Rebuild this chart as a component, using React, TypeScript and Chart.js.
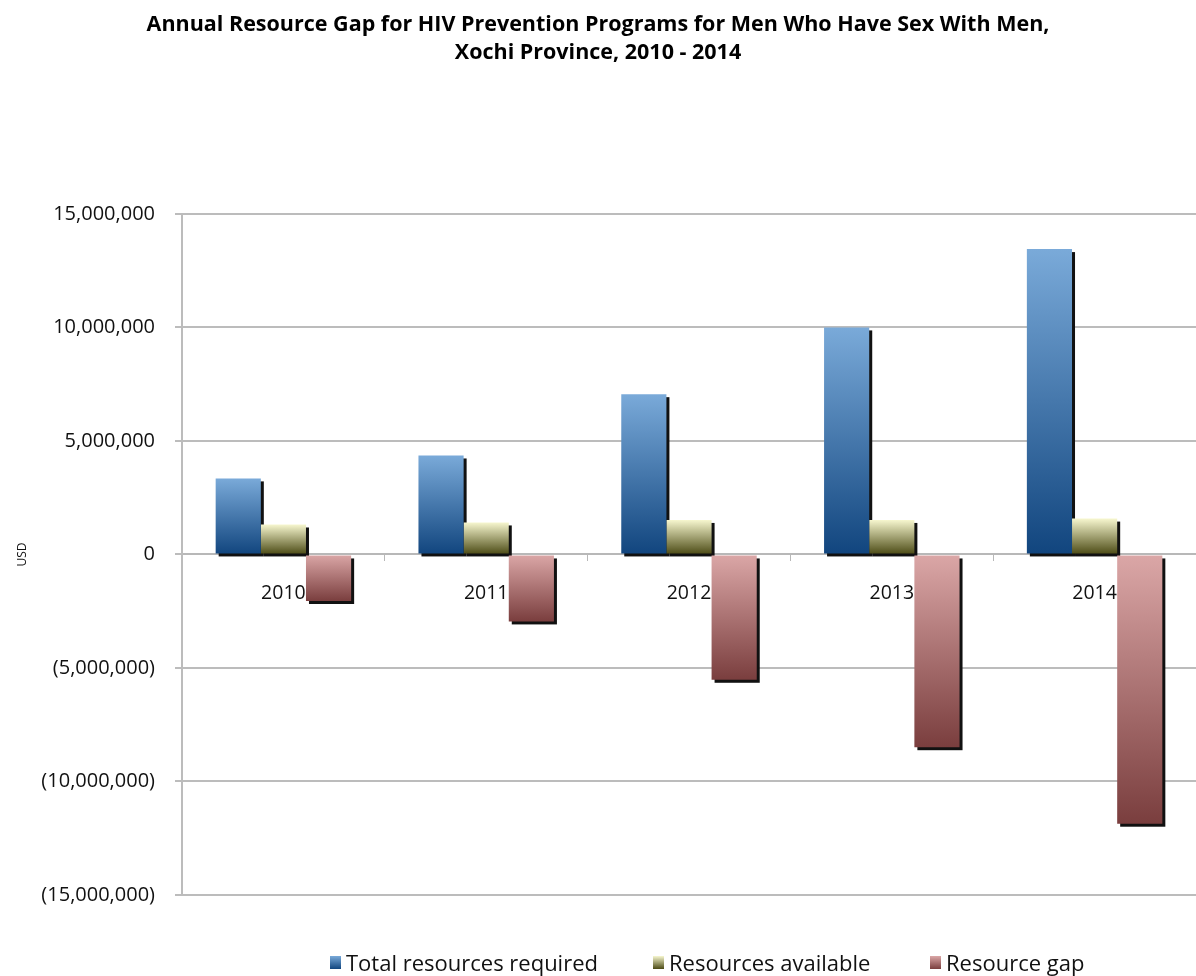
import React, { useEffect, useRef } from "react";
import { Chart, registerables } from "chart.js";

Chart.register(...registerables);

const titleLines = [
  "Annual Resource Gap for HIV Prevention Programs for Men Who Have Sex With Men,",
  "Xochi Province, 2010 - 2014",
];
const categories = ["2010", "2011", "2012", "2013", "2014"];
const seriesNames = ["Total resources required", "Resources available", "Resource gap"];
const totalRequired = [3350000, 4360000, 7060000, 10000000, 13450000];
const resourcesAvailable = [1320000, 1410000, 1520000, 1520000, 1580000];
const resourceGap = [-2050000, -2950000, -5520000, -8490000, -11860000];
const yMin = -15000000;
const yMax = 15000000;
const yStep = 5000000;
const yAxisTitle = "USD";

const gradients = [
  ["#7aaad9", "#11457e"],
  ["#f7f7cf", "#4b4a14"],
  ["#dba7a7", "#7a3e3e"],
];
const solids = ["#3f77b2", "#9c9c5c", "#b07878"];

const fontBody = "'Open Sans', 'DejaVu Sans', sans-serif";

function fmt(v: number) {
  const s = Math.abs(v).toLocaleString("en-US");
  return v < 0 ? "(" + s + ")" : s;
}

function makeBg(idx: number) {
  return (ctx: any) => {
    const chart = ctx.chart;
    const ys = chart.scales && chart.scales.y;
    if (!chart.chartArea || !ys || ctx.type !== "data") return solids[idx];
    const v = ctx.raw as number;
    const p0 = ys.getPixelForValue(0);
    const p1 = ys.getPixelForValue(v);
    const top = Math.min(p0, p1);
    const bot = Math.max(p0, p1);
    if (!isFinite(top) || !isFinite(bot) || bot - top < 1) return solids[idx];
    const g = chart.ctx.createLinearGradient(0, top, 0, bot);
    g.addColorStop(0, gradients[idx][0]);
    g.addColorStop(1, gradients[idx][1]);
    return g;
  };
}

const shadowPlugin = {
  id: "barShadow",
  beforeDatasetsDraw(chart: any) {
    const c = chart.ctx;
    c.save();
    c.fillStyle = "#111";
    chart.data.datasets.forEach((_: any, i: number) => {
      const meta = chart.getDatasetMeta(i);
      meta.data.forEach((el: any) => {
        const left = el.x - el.width / 2;
        const top = Math.min(el.y, el.base);
        const h = Math.abs(el.base - el.y);
        c.fillRect(left + 3, top + 3, el.width, h);
      });
    });
    c.restore();
  },
};

export default function App() {
  const ref = useRef<HTMLCanvasElement | null>(null);

  useEffect(() => {
    document.body.style.margin = "0";
    const canvas = ref.current;
    if (!canvas) return;
    const datasets = [totalRequired, resourcesAvailable, resourceGap].map((d, i) => ({
      label: seriesNames[i],
      data: d,
      backgroundColor: makeBg(i),
      borderWidth: 0,
      categoryPercentage: 0.668,
      barPercentage: 1.0,
    }));
    const chart = new Chart(canvas, {
      type: "bar",
      data: { labels: categories, datasets },
      plugins: [shadowPlugin],
      options: {
        responsive: false,
        animation: false,
        layout: { padding: { left: 0, right: 0, top: 0, bottom: 81 } },
        plugins: {
          legend: { display: false },
          tooltip: { enabled: false },
          title: {
            display: true,
            text: titleLines,
            color: "#000",
            font: { family: fontBody, size: 21.5, weight: "bold", lineHeight: 1.3 },
            padding: { top: 11, bottom: 147 },
          },
        },
        scales: {
          x: {
            position: { y: 0 } as any,
            grid: {
              display: true,
              drawOnChartArea: false,
              drawTicks: true,
              tickLength: 6,
              color: "#b8b8b8",
              offset: true,
            },
            border: { display: true, color: "#b8b8b8", width: 2 },
            ticks: {
              color: "#111",
              font: { family: fontBody, size: 19.5 },
              padding: 21,
              maxRotation: 0,
            },
          },
          y: {
            min: yMin,
            max: yMax,
            afterFit: (scale: any) => {
              scale.width = 182;
            },
            ticks: {
              stepSize: yStep,
              color: "#111",
              font: { family: fontBody, size: 20 },
              padding: 20,
              callback: (v: any) => fmt(Number(v)),
            },
            grid: { color: "#bcbcbc", lineWidth: 2, tickLength: 7 },
            border: { display: true, color: "#bcbcbc", width: 2 },
            title: {
              display: true,
              text: yAxisTitle,
              color: "#111",
              font: { family: fontBody, size: 12 },
              padding: { top: 15, bottom: 0 },
            },
          },
        },
      },
    });
    return () => chart.destroy();
  }, []);

  const legendX = [330, 653, 930];

  return (
    <div style={{ position: "relative", width: 1196, height: 976, background: "#fff" }}>
      <canvas ref={ref} width={1196} height={976} style={{ display: "block" }} />
      {seriesNames.map((name, i) => (
        <div
          key={name}
          style={{
            position: "absolute",
            left: legendX[i],
            top: 947,
            display: "flex",
            alignItems: "center",
            fontFamily: fontBody,
            fontSize: 22,
            color: "#111",
            whiteSpace: "nowrap",
          }}
        >
          <span
            style={{
              display: "inline-block",
              width: 11,
              height: 13,
              marginRight: 5,
              background: `linear-gradient(${gradients[i][0]}, ${gradients[i][1]})`,
            }}
          />
          {name}
        </div>
      ))}
    </div>
  );
}
